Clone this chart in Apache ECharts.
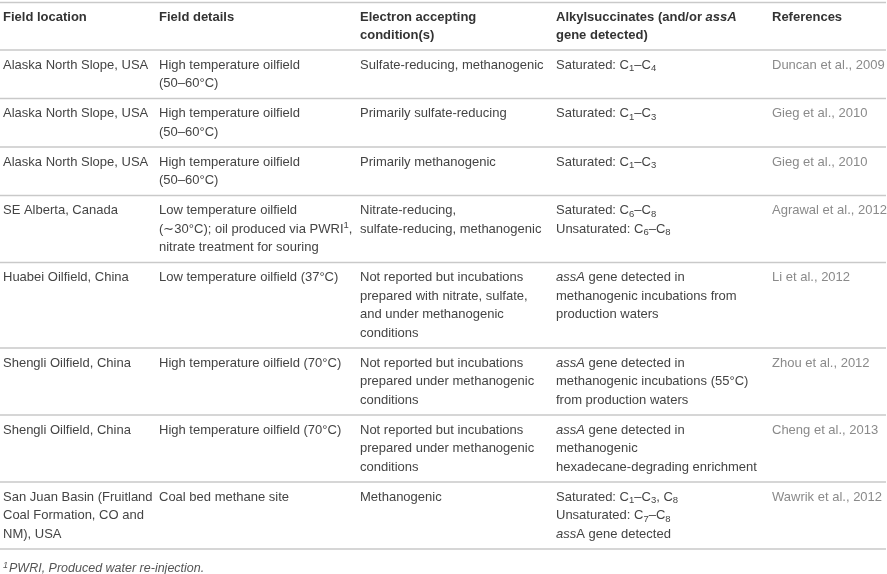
<!DOCTYPE html>
<html>
<head>
<meta charset="utf-8">
<script src="https://cdn.jsdelivr.net/npm/echarts@6/dist/echarts.min.js"></script>
<style>
  html, body { margin: 0; padding: 0; background: #fff; }
  #echart { width: 887px; height: 574px; }
</style>
</head>
<body>
<div id="echart"></div>
<script>
// table content, one array per column ({sub|..} / {sup|..} / {i|..} are rich text marks)
const headers = [
  '{b|Field location}',
  '{b|Field details}',
  '{b|Electron accepting}\n{b|condition(s)}',
  '{b|Alkylsuccinates (and/or }{bi|assA}\n{b|gene detected)}',
  '{b|References}'
];
const fieldLocation = [
  'Alaska North Slope, USA',
  'Alaska North Slope, USA',
  'Alaska North Slope, USA',
  'SE Alberta, Canada',
  'Huabei Oilfield, China',
  'Shengli Oilfield, China',
  'Shengli Oilfield, China',
  'San Juan Basin (Fruitland\nCoal Formation, CO and\nNM), USA'
];
const fieldDetails = [
  'High temperature oilfield\n(50–60°C)',
  'High temperature oilfield\n(50–60°C)',
  'High temperature oilfield\n(50–60°C)',
  'Low temperature oilfield\n(∼30°C); oil produced via PWRI{sup|1},\nnitrate treatment for souring',
  'Low temperature oilfield (37°C)',
  'High temperature oilfield (70°C)',
  'High temperature oilfield (70°C)',
  'Coal bed methane site'
];
const conditions = [
  'Sulfate-reducing, methanogenic',
  'Primarily sulfate-reducing',
  'Primarily methanogenic',
  'Nitrate-reducing,\nsulfate-reducing, methanogenic',
  'Not reported but incubations\nprepared with nitrate, sulfate,\nand under methanogenic\nconditions',
  'Not reported but incubations\nprepared under methanogenic\nconditions',
  'Not reported but incubations\nprepared under methanogenic\nconditions',
  'Methanogenic'
];
const alkylsuccinates = [
  'Saturated: C{sub|1}–C{sub|4}',
  'Saturated: C{sub|1}–C{sub|3}',
  'Saturated: C{sub|1}–C{sub|3}',
  'Saturated: C{sub|6}–C{sub|8}\nUnsaturated: C{sub|6}–C{sub|8}',
  '{i|assA} gene detected in\nmethanogenic incubations from\nproduction waters',
  '{i|assA} gene detected in\nmethanogenic incubations (55°C)\nfrom production waters',
  '{i|assA} gene detected in\nmethanogenic\nhexadecane-degrading enrichment',
  'Saturated: C{sub|1}–C{sub|3}, C{sub|8}\nUnsaturated: C{sub|7}–C{sub|8}\n{i|ass}A gene detected'
];
const references = [
  'Duncan et al., 2009',
  'Gieg et al., 2010',
  'Gieg et al., 2010',
  'Agrawal et al., 2012',
  'Li et al., 2012',
  'Zhou et al., 2012',
  'Cheng et al., 2013',
  'Wawrik et al., 2012'
];
const footnote = '{fsup|1}{fi|PWRI, Produced water re-injection.}';

const columns = [fieldLocation, fieldDetails, conditions, alkylsuccinates, references];

const drawTable = () => {
  var chartDom = document.getElementById('echart');
  var myChart = echarts.init(chartDom, null, { renderer: 'canvas' });

  const W = 887;
  const colX = [3, 159, 360, 556, 772];
  const lineH = 18.5;
  const pad = 5.75;   // top of first text line box below the rule
  const font = "'Liberation Sans', Arial, sans-serif";
  const ruleColor = '#c9c9c9';
  const body = '#444';

  // rich token styles do not inherit from the element, so spell everything out
  const richFor = (fill) => ({
    sub: { fontFamily: font, fontSize: 9.5, fill: fill, padding: [7, 0, 0, 0] },
    sup: { fontFamily: font, fontSize: 9.5, fill: fill, padding: [0, 0, 7, 0] },
    i: { fontFamily: font, fontSize: 13, fontStyle: 'italic', fill: fill },
    b: { fontFamily: font, fontSize: 13, fontWeight: 'bold', fill: '#333' },
    bi: { fontFamily: font, fontSize: 13, fontStyle: 'italic', fontWeight: 'bold', fill: '#333' },
    fi: { fontFamily: font, fontSize: 12.5, fontStyle: 'italic', fill: '#555' },
    fsup: { fontFamily: font, fontSize: 9, fontStyle: 'italic', fill: '#555', padding: [0, 1, 6, 0] }
  });

  const nLines = (s) => s.split('\n').length;
  const graphic = [];

  const rule = (y) => {
    graphic.push({
      type: 'line',
      shape: { x1: 0, y1: y, x2: W - 1, y2: y },
      style: { stroke: ruleColor, lineWidth: 1.5 },
      silent: true
    });
  };

  const cell = (text, x, y, fill) => {
    graphic.push({
      type: 'text',
      x: x,
      y: y,
      silent: true,
      style: {
        text: text,
        fontFamily: font,
        fontSize: 13,
        lineHeight: lineH,
        fill: fill || body,
        verticalAlign: 'top',
        align: 'left',
        rich: richFor(fill || body)
      }
    });
  };

  // header
  let top = 2.5;
  rule(top);
  headers.forEach((h, c) => cell(h, colX[c], top + 5.25));
  top += 11.5 + lineH * Math.max(...headers.map(nLines)) - 1;
  rule(top);

  // body rows
  for (let r = 0; r < fieldLocation.length; r++) {
    const n = Math.max(...columns.map(col => nLines(col[r])));
    columns.forEach((col, c) => {
      cell(col[r], colX[c], top + pad, c === 4 ? '#8a8a8a' : null);
    });
    top += 11.5 + lineH * n;
    rule(top);
  }

  // footnote
  cell(footnote, colX[0], top + 10);

  const option = {
    animation: false,
    backgroundColor: '#fff',
    graphic: graphic
  };
  option && myChart.setOption(option);
};

drawTable();
</script>
</body>
</html>
